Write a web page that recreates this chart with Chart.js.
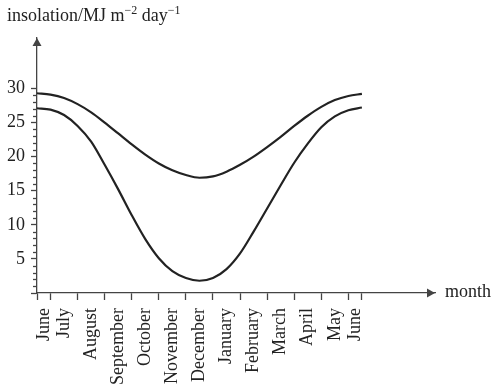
<!DOCTYPE html>
<html>
<head>
<meta charset="utf-8">
<script src="https://cdn.jsdelivr.net/npm/chart.js@4"></script>
<style>
  body { margin: 0; background: #fff; }
  #wrap { width: 491px; height: 385px; }
</style>
</head>
<body>
<div id="wrap"><canvas id="chart" width="491" height="385"></canvas></div>
<script>
// half-month steps, counted from the June solstice (0) to the next one (12)
const months = [0, 0.5, 1, 1.5, 2, 2.5, 3, 3.5, 4, 4.5, 5, 5.5, 6,
  6.5, 7, 7.5, 8, 8.5, 9, 9.5, 10, 10.5, 11, 11.5, 12];
const upperValues = [29.3, 29.1, 28.6, 27.7, 26.5, 25.0, 23.4, 21.8, 20.3, 19.0, 18.0, 17.3, 16.9,
  17.1, 17.8, 18.8, 20.0, 21.4, 22.9, 24.5, 26.0, 27.3, 28.3, 28.9, 29.2];
const lowerValues = [27.1, 26.9, 26.1, 24.5, 22.2, 18.8, 15.2, 11.4, 7.9, 5.1, 3.2, 2.2, 1.8,
  2.2, 3.5, 5.8, 9.0, 12.4, 15.8, 19.1, 21.9, 24.3, 25.9, 26.8, 27.2];

const monthLabels = ["June", "July", "August", "September", "October", "November", "December",
  "January", "February", "March", "April", "May", "June"];
const labelPositions = [0.25, 1, 2, 3, 4, 5, 6, 7, 8, 9, 10, 11, 11.75];
const tickPositions = [0, 0.5, 1.5, 2.5, 3.5, 4.5, 5.5, 6.5, 7.5, 8.5, 9.5, 10.5, 11.5, 12];
const yTicks = [0, 5, 10, 15, 20, 25, 30];

const ink = "#222";
const axisInk = "#444";
const serif = "'Liberation Serif', 'DejaVu Serif', serif";

const toPoints = (xs, ys) => xs.map((x, i) => ({ x: x, y: ys[i] }));

// arrows, minor ticks, axis title and "month"
const decorations = {
  id: "decorations",
  afterDraw(chart) {
    const ctx = chart.ctx;
    const area = chart.chartArea;
    const y = chart.scales.y;
    ctx.save();
    ctx.strokeStyle = axisInk;
    ctx.fillStyle = axisInk;
    ctx.lineWidth = 1.3;

    // minor ticks on the y axis
    for (let v = 1; v <= 30; v++) {
      if (v % 5 === 0) continue;
      const py = Math.round(y.getPixelForValue(v)) + 0.5;
      ctx.beginPath();
      ctx.moveTo(area.left - 4, py);
      ctx.lineTo(area.left, py);
      ctx.stroke();
    }

    // up arrow
    ctx.beginPath();
    ctx.moveTo(area.left, area.top);
    ctx.lineTo(area.left - 4.5, area.top + 8);
    ctx.lineTo(area.left + 4.5, area.top + 8);
    ctx.closePath();
    ctx.fill();

    // right arrow
    ctx.beginPath();
    ctx.moveTo(area.right, area.bottom);
    ctx.lineTo(area.right - 8, area.bottom - 4.5);
    ctx.lineTo(area.right - 8, area.bottom + 4.5);
    ctx.closePath();
    ctx.fill();

    // x axis title
    ctx.fillStyle = ink;
    ctx.font = "18px " + serif;
    ctx.textBaseline = "middle";
    ctx.textAlign = "left";
    ctx.fillText("month", area.right + 10, area.bottom - 1);

    // y axis title with superscripts
    let x = 7;
    const base = 21;
    const parts = [["insolation/MJ m", false], ["\u22122", true], [" day", false], ["\u22121", true]];
    ctx.textBaseline = "alphabetic";
    parts.forEach(([txt, sup]) => {
      ctx.font = (sup ? "12px " : "18px ") + serif;
      ctx.fillText(txt, x, sup ? base - 7 : base);
      x += ctx.measureText(txt).width;
    });
    ctx.restore();
  }
};

new Chart(document.getElementById("chart"), {
  type: "scatter",
  data: {
    datasets: [
      {
        label: "upper",
        data: toPoints(months, upperValues),
        showLine: true,
        borderColor: ink,
        borderWidth: 2.2,
        pointRadius: 0,
        cubicInterpolationMode: "monotone"
      },
      {
        label: "lower",
        data: toPoints(months, lowerValues),
        showLine: true,
        borderColor: ink,
        borderWidth: 2.2,
        pointRadius: 0,
        cubicInterpolationMode: "monotone"
      }
    ]
  },
  options: {
    responsive: false,
    animation: false,
    layout: { padding: { top: 38, right: 56, left: 0, bottom: 0 } },
    plugins: {
      legend: { display: false },
      tooltip: { enabled: false }
    },
    scales: {
      x: {
        type: "linear",
        min: 0,
        max: 14.7,
        afterBuildTicks: (scale) => {
          const vals = tickPositions.concat(labelPositions).sort((a, b) => a - b);
          scale.ticks = vals.map((v) => ({ value: v }));
        },
        afterFit: (scale) => { scale.height = 92; },
        grid: {
          drawOnChartArea: false,
          tickLength: 7,
          tickWidth: 1.3,
          tickColor: (c) => (c.tick && tickPositions.includes(c.tick.value) ? axisInk : "rgba(0,0,0,0)")
        },
        border: { color: axisInk, width: 1.3 },
        ticks: {
          autoSkip: false,
          minRotation: 90,
          maxRotation: 90,
          padding: 8,
          color: ink,
          font: { family: serif, size: 18 },
          callback: (v) => {
            const i = labelPositions.indexOf(v);
            return i >= 0 ? monthLabels[i] : "";
          }
        }
      },
      y: {
        min: 0,
        max: 37.4,
        afterBuildTicks: (scale) => {
          scale.ticks = yTicks.map((v) => ({ value: v }));
        },
        afterFit: (scale) => { scale.width = 37; },
        grid: {
          drawOnChartArea: false,
          tickLength: 6,
          tickWidth: 1.3,
          tickColor: axisInk
        },
        border: { color: axisInk, width: 1.3 },
        ticks: {
          padding: 6,
          color: ink,
          font: { family: serif, size: 18 },
          callback: (v) => (v === 0 ? "" : v)
        }
      }
    }
  },
  plugins: [decorations]
});
</script>
</body>
</html>
